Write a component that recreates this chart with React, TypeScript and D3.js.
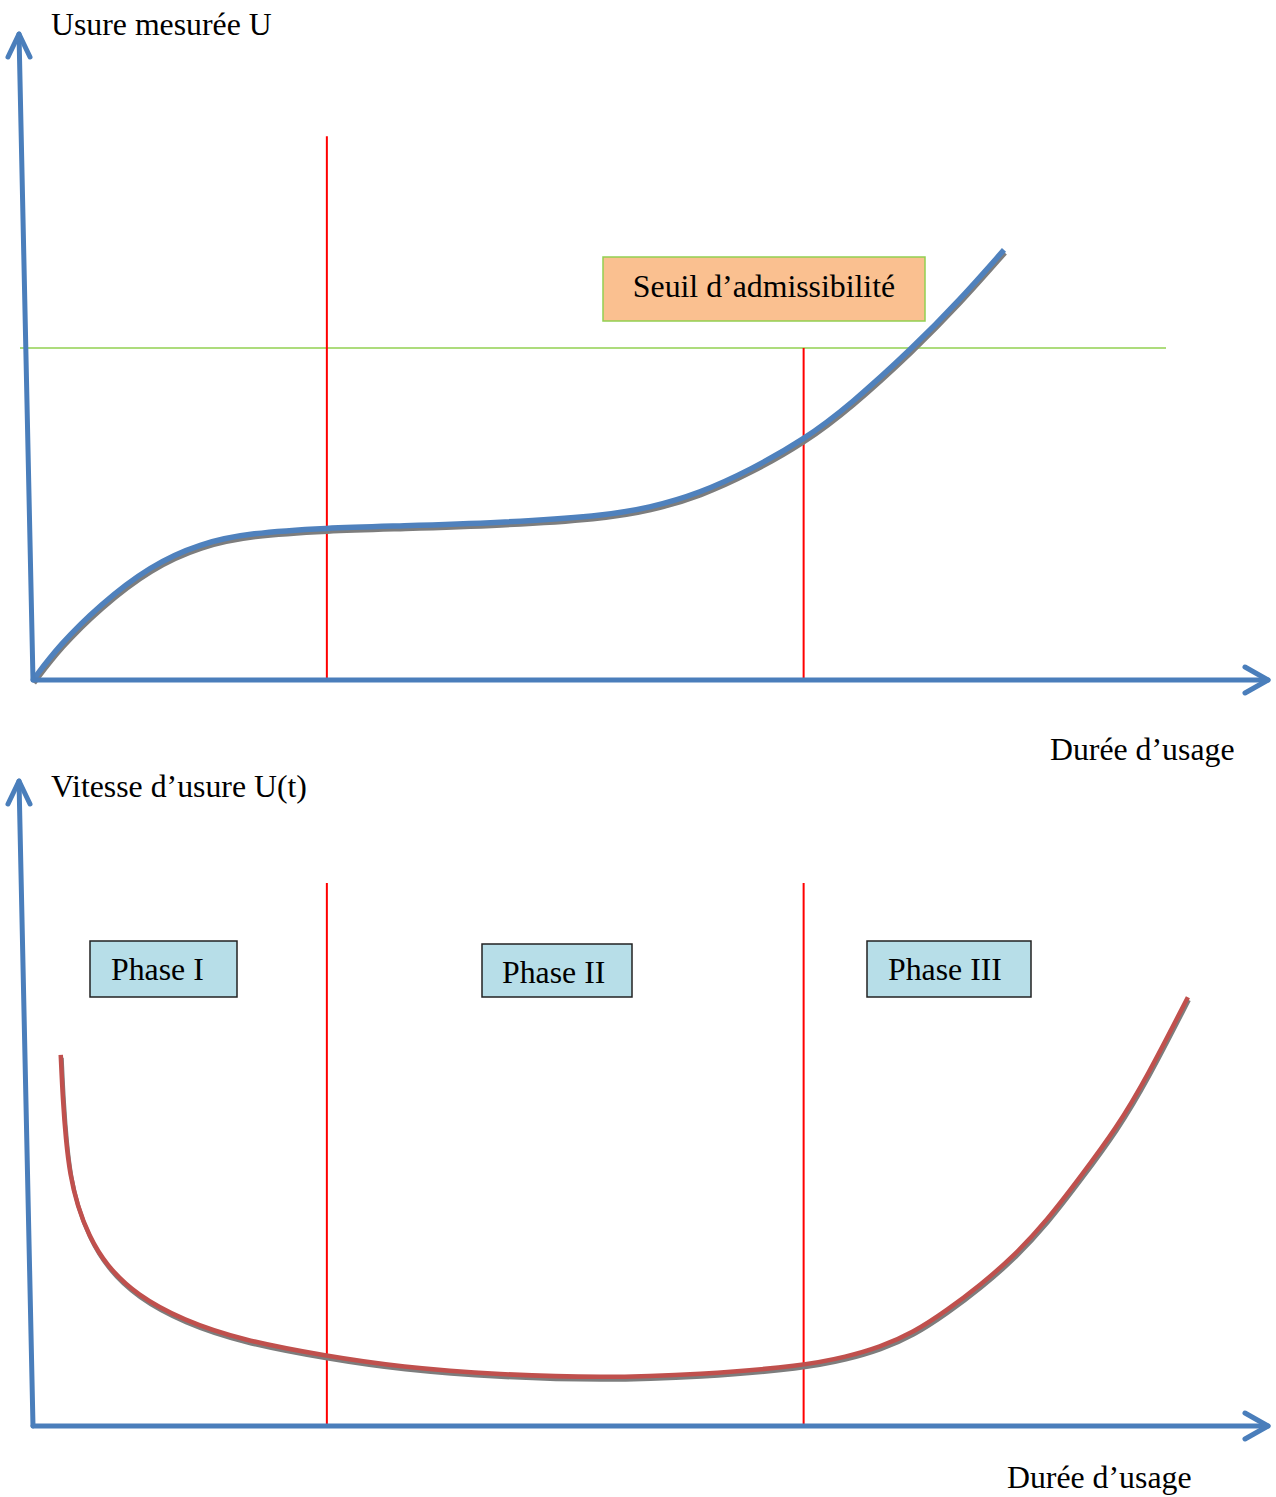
import React from "react";
import * as d3 from "d3";

// Usage duration (arbitrary units) against measured wear U
const wearT = [0, 0.26, 0.65, 1.14, 1.63, 2.11, 2.86, 3.57, 4.55, 5.52, 6.0, 6.49, 6.98, 7.5, 7.95, 8.56, 9.02, 9.45];
const wearU = [0, 0.55, 1.17, 1.78, 2.13, 2.29, 2.37, 2.4, 2.45, 2.55, 2.68, 2.91, 3.27, 3.74, 4.28, 5.17, 5.92, 6.7];

// Usage duration against wear rate U(t)
const rateT = [0.27, 0.29, 0.32, 0.36, 0.43, 0.54, 0.71, 1.01, 1.46, 2.03, 2.86, 3.57, 4.55, 5.52, 6.49, 7.5, 7.92, 8.24, 8.56, 8.9, 9.22, 9.54, 9.87, 10.19, 10.55, 10.84, 11.24];
const rateV = [5.79, 5.09, 4.46, 3.92, 3.45, 2.98, 2.51, 2.04, 1.65, 1.34, 1.09, 0.92, 0.8, 0.75, 0.8, 0.94, 1.08, 1.23, 1.45, 1.81, 2.2, 2.64, 3.21, 3.88, 4.66, 5.44, 6.69];

// Phase boundaries on the duration axis and the admissible wear threshold
const phaseBounds = [2.86, 7.5];
const phaseLabels = ["Phase I", "Phase II", "Phase III"];
const threshold = 5.17;
const boundTop = 8.47;

const titleTop = "Usure mesurée U";
const titleBottom = "Vitesse d’usure U(t)";
const xTitle = "Durée d’usage";
const thresholdLabel = "Seuil d’admissibilité";

const W = 1276;
const H = 1497;
const AXIS = "#4a7ebb";
const FONT = "'Liberation Serif', 'Times New Roman', serif";
const FS = 31.8;

const x = d3.scaleLinear().domain([0, 12]).range([33, 1266]);
const yTop = d3.scaleLinear().domain([0, 10]).range([680, 38]);
const yBot = d3.scaleLinear().domain([0, 10]).range([1426, 785]);

function Axes({ y, topX }: { y: d3.ScaleLinear<number, number>; topX: number }) {
  const ox = x(0);
  const oy = y(0);
  const tipY = y.range()[1] - 4;
  const tipX = x.range()[1] + 2;
  return (
    <g stroke={AXIS} strokeWidth={5} fill="none" strokeLinecap="round" strokeLinejoin="round">
      <line x1={ox} y1={oy} x2={topX} y2={tipY} />
      <polyline points={`${topX - 11},${tipY + 23} ${topX},${tipY} ${topX + 11},${tipY + 23}`} />
      <line x1={ox} y1={oy} x2={tipX} y2={oy} />
      <polyline points={`${tipX - 23},${oy - 13} ${tipX},${oy} ${tipX - 23},${oy + 13}`} />
    </g>
  );
}

function Curve({ d, color, width }: { d: string; color: string; width: number }) {
  return (
    <g fill="none" strokeLinecap="butt">
      <path d={d} stroke="#7d7d7d" strokeWidth={width - 0.5} transform="translate(1,3)" />
      <path d={d} stroke={color} strokeWidth={width} />
    </g>
  );
}

export default function App() {
  const line = d3
    .line<[number, number]>()
    .x((p) => x(p[0]))
    .curve(d3.curveBasis);

  const wearPath = line.y((p) => yTop(p[1]))(wearT.map((t, i) => [t, wearU[i]] as [number, number])) || "";
  const ratePath = line.y((p) => yBot(p[1]))(rateT.map((t, i) => [t, rateV[i]] as [number, number])) || "";

  const phaseBoxes = [
    { x: 90, y: 941, w: 147, h: 56, tx: 111, ty: 980 },
    { x: 482, y: 944, w: 150, h: 53, tx: 502, ty: 983 },
    { x: 867, y: 941, w: 164, h: 56, tx: 888, ty: 980 },
  ];

  return (
    <svg
      width={W}
      height={H}
      viewBox={`0 0 ${W} ${H}`}
      style={{ position: "absolute", left: 0, top: 0, background: "#fff" }}
      fontFamily={FONT}
      fontSize={FS}
    >
      {/* Upper panel: measured wear */}
      <line x1={20} x2={1166} y1={yTop(threshold)} y2={yTop(threshold)} stroke="#92d050" strokeWidth={1.5} />
      <line x1={x(phaseBounds[0])} x2={x(phaseBounds[0])} y1={yTop(0)} y2={yTop(boundTop)} stroke="#ff0000" strokeWidth={2} />
      <line x1={x(phaseBounds[1])} x2={x(phaseBounds[1])} y1={yTop(0)} y2={yTop(threshold)} stroke="#ff0000" strokeWidth={2} />
      <Curve d={wearPath} color="#4f81bd" width={5.5} />
      <Axes y={yTop} topX={19} />
      <rect x={603} y={257} width={322} height={64} fill="#fac090" stroke="#92d050" strokeWidth={1.5} />
      <text x={764} y={297} textAnchor="middle">{thresholdLabel}</text>
      <text x={51} y={35}>{titleTop}</text>
      <text x={1050} y={760}>{xTitle}</text>

      {/* Lower panel: wear rate */}
      {phaseBounds.map((b) => (
        <line key={b} x1={x(b)} x2={x(b)} y1={yBot(0)} y2={yBot(boundTop)} stroke="#ff0000" strokeWidth={2} />
      ))}
      <Curve d={ratePath} color="#c0504d" width={4.5} />
      <Axes y={yBot} topX={19} />
      {phaseBoxes.map((b, i) => (
        <g key={phaseLabels[i]}>
          <rect x={b.x} y={b.y} width={b.w} height={b.h} fill="#b7dee8" stroke="#222" strokeWidth={1.5} />
          <text x={b.tx} y={b.ty}>{phaseLabels[i]}</text>
        </g>
      ))}
      <text x={51} y={797}>{titleBottom}</text>
      <text x={1007} y={1488}>{xTitle}</text>
    </svg>
  );
}
